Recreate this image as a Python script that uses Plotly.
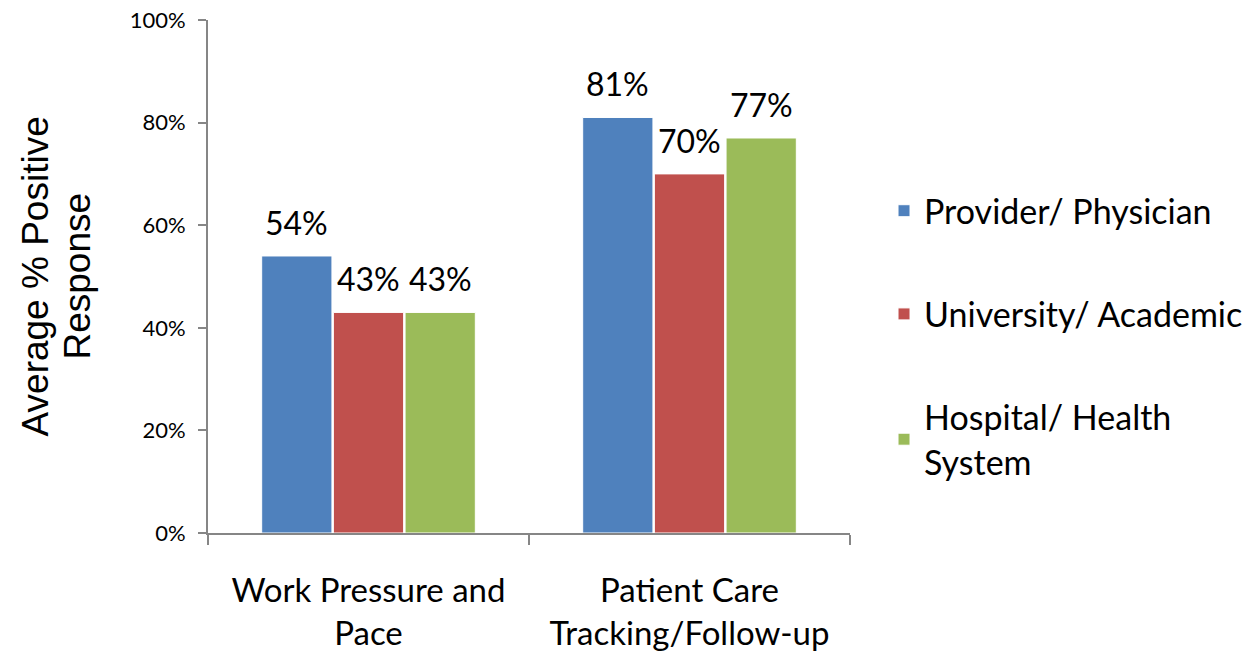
import plotly.graph_objects as go

categories = ["Work Pressure and<br>Pace", "Patient Care<br>Tracking/Follow-up"]
series_names = ["Provider/ Physician", "University/ Academic", "Hospital/ Health<br>System"]
provider = [54, 81]
university = [43, 70]
hospital = [43, 77]
colors = ["#4F81BD", "#C0504D", "#9BBB59"]
y_ticks = [0, 20, 40, 60, 80, 100]
y_title_lines = ["Average % Positive", "Response"]

CAL = "Lato, Carlito, Calibri, sans-serif"
BARGAP = 0.33
series_vals = [provider, university, hospital]

fig = go.Figure()
for name, vals, col in zip(series_names, series_vals, colors):
    fig.add_trace(go.Bar(
        x=categories, y=vals, name=name, legendgroup=name,
        marker=dict(color=col, line=dict(color="white", width=1)),
    ))

# data labels above the bars
n = len(series_vals)
slot = (1 - BARGAP) / n
for s, vals in enumerate(series_vals):
    off = (s - (n - 1) / 2) * slot
    for i, v in enumerate(vals):
        fig.add_annotation(
            x=i + off, y=v, xref="x", yref="y", text=f"{v}%", showarrow=False,
            yanchor="bottom", yshift=12,
            font=dict(family=CAL, size=32, color="black"),
        )

# y-axis title (two rotated lines)
for line, xp in zip(y_title_lines, [-0.268, -0.204]):
    fig.add_annotation(
        x=xp, y=0.5, xref="paper", yref="paper", text=line, showarrow=False,
        textangle=-90, xanchor="center", yanchor="middle",
        font=dict(family="Liberation Sans, Arial", size=37, color="black"),
    )

fig.update_layout(
    width=1248, height=652,
    margin=dict(l=208, r=398, t=20, b=119, autoexpand=False),
    paper_bgcolor="white", plot_bgcolor="white",
    barmode="group", bargap=BARGAP, bargroupgap=0.02,
    font=dict(family=CAL, color="black"),
    legend=dict(x=1.053, y=0.684, xanchor="left", yanchor="top",
                font=dict(size=34, family=CAL),
                tracegroupgap=56, itemwidth=30),
    showlegend=True,
)
fig.update_xaxes(
    showline=True, linecolor="#868686", linewidth=2,
    ticks="outside", tickson="boundaries", ticklen=10, tickcolor="#868686", tickwidth=2,
    tickfont=dict(size=33, family=CAL), ticklabelstandoff=27,
    showgrid=False, automargin=False,
)
fig.update_yaxes(
    range=[0, 100], tickvals=y_ticks, ticktext=[f"{t}%" for t in y_ticks],
    showline=True, linecolor="#868686", linewidth=2,
    ticks="outside", ticklen=8, tickcolor="#868686", tickwidth=2,
    tickfont=dict(size=22, family=CAL), ticklabelstandoff=8,
    showgrid=False, zeroline=False, automargin=False,
)
fig.write_html("out.html", config={"displayModeBar": False},
               post_script="document.body.style.margin='0';")
